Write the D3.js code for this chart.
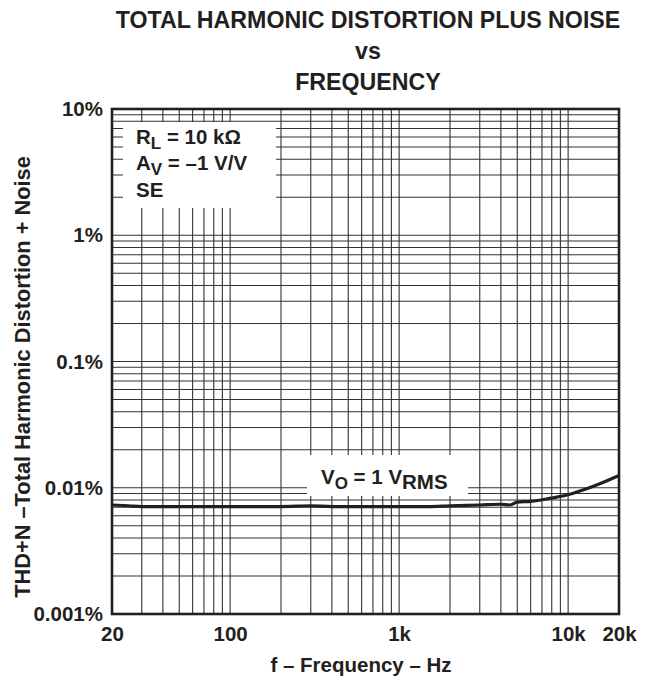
<!DOCTYPE html>
<html><head><meta charset="utf-8">
<script src="https://cdn.jsdelivr.net/npm/d3@7"></script>
<style>
html,body{margin:0;padding:0;background:#fff;}
svg text{font-family:"Liberation Sans",Arial,Helvetica,sans-serif;font-weight:bold;fill:#231f20;}
</style></head>
<body>
<svg id="chart" width="654" height="681"></svg>
<script>
const titleLines = ["TOTAL HARMONIC DISTORTION PLUS NOISE", "vs", "FREQUENCY"];
const xTickValues = [20, 100, 1000, 10000, 20000];
const xTickLabels = ["20", "100", "1k", "10k", "20k"];
const yTickValues = [10, 1, 0.1, 0.01, 0.001];
const yTickLabels = ["10%", "1%", "0.1%", "0.01%", "0.001%"];
const freq = [20, 25, 30, 40, 50, 70, 100, 150, 200, 300, 400, 500, 700, 1000, 1500, 2000, 3000, 4000, 4500, 5000, 6000, 8000, 10000, 12000, 15000, 20000];
const thdn = [0.0073, 0.0072, 0.0071, 0.0071, 0.0071, 0.0071, 0.0071, 0.0071, 0.0071, 0.0072, 0.0071, 0.0071, 0.0071, 0.0071, 0.0071, 0.0072, 0.0073, 0.0074, 0.0073, 0.0077, 0.0078, 0.0083, 0.0088, 0.0095, 0.0106, 0.0125];

const svg = d3.select("#chart");
const L = 112, R = 619, T = 109, B = 614;
const FS = 20.5;
const x = d3.scaleLog().domain([20, 20000]).range([L, R]);
const y = d3.scaleLog().domain([0.001, 10]).range([B, T]);

const xGrid = [];
for (let d = 10; d <= 10000; d *= 10) for (let m = 1; m <= 9; m++) { const v = d * m; if (v > 20 && v < 20000) xGrid.push(v); }
const yGrid = [];
for (let d = 0.001; d < 10; d *= 10) for (let m = 1; m <= 9; m++) { const v = d * m; if (v > 0.0011 && v < 9.99) yGrid.push(v); }

const grid = svg.append("g").attr("stroke", "#333").attr("stroke-width", 1.1);
grid.selectAll("line.v").data(xGrid).join("line").attr("class", "v")
  .attr("x1", d => x(d)).attr("x2", d => x(d)).attr("y1", T).attr("y2", B);
grid.selectAll("line.h").data(yGrid).join("line").attr("class", "h")
  .attr("x1", L).attr("x2", R).attr("y1", d => y(d)).attr("y2", d => y(d));

// legend box top-left
svg.append("rect").attr("x", 123).attr("y", 122).attr("width", 153).attr("height", 86).attr("fill", "#fff");
const lg = svg.append("g").attr("font-size", FS);
const t1 = lg.append("text").attr("x", 136).attr("y", 144);
t1.append("tspan").text("R");
t1.append("tspan").attr("dy", 5).attr("font-size", 17).text("L");
t1.append("tspan").attr("dy", -5).text(" = 10 kΩ");
const t2 = lg.append("text").attr("x", 136).attr("y", 170);
t2.append("tspan").text("A");
t2.append("tspan").attr("dy", 5).attr("font-size", 17).text("V");
t2.append("tspan").attr("dy", -5).text(" = –1 V/V");
lg.append("text").attr("x", 136).attr("y", 197).text("SE");

// Vo label box
svg.append("rect").attr("x", 307).attr("y", 455).attr("width", 161).attr("height", 41).attr("fill", "#fff");
const vo = svg.append("text").attr("x", 321).attr("y", 484).attr("font-size", FS);
vo.append("tspan").text("V");
vo.append("tspan").attr("dy", 5).attr("font-size", 17).text("O");
vo.append("tspan").attr("dy", -5).text(" = 1 V");
vo.append("tspan").attr("dy", 5).attr("font-size", FS).text("RMS");

// curve
svg.append("path").datum(freq.map((f, i) => [f, thdn[i]]))
  .attr("fill", "none").attr("stroke", "#231f20").attr("stroke-width", 3.2)
  .attr("stroke-linejoin", "round")
  .attr("d", d3.line().x(d => x(d[0])).y(d => y(d[1])).curve(d3.curveMonotoneX));

// border
svg.append("rect").attr("x", L).attr("y", T).attr("width", R - L).attr("height", B - T)
  .attr("fill", "none").attr("stroke", "#231f20").attr("stroke-width", 2.6);

const xAxis = d3.axisBottom(x).tickValues(xTickValues).tickFormat((d, i) => xTickLabels[i]).tickSize(0).tickPadding(12);
const gx = svg.append("g").attr("transform", `translate(0,${B})`).call(xAxis);
gx.select(".domain").remove();
gx.selectAll("text").attr("font-size", FS).attr("fill", "#231f20").attr("font-family", null);

const yAxis = d3.axisLeft(y).tickValues(yTickValues).tickFormat((d, i) => yTickLabels[i]).tickSize(0).tickPadding(9);
const gy = svg.append("g").attr("transform", `translate(${L},0)`).call(yAxis);
gy.select(".domain").remove();
gy.selectAll("text").attr("font-size", FS).attr("fill", "#231f20").attr("font-family", null);

svg.append("g").selectAll("text").data(titleLines).join("text")
  .attr("x", 368).attr("y", (d, i) => 28 + i * 31).attr("text-anchor", "middle").attr("font-size", 23.2).text(d => d);
svg.append("text").attr("x", 361).attr("y", 672).attr("text-anchor", "middle").attr("font-size", FS).text("f – Frequency – Hz");
svg.append("text").attr("transform", "translate(30,377) rotate(-90)").attr("text-anchor", "middle").attr("font-size", 21.8)
  .text("THD+N –Total Harmonic Distortion + Noise");
</script>
</body></html>
